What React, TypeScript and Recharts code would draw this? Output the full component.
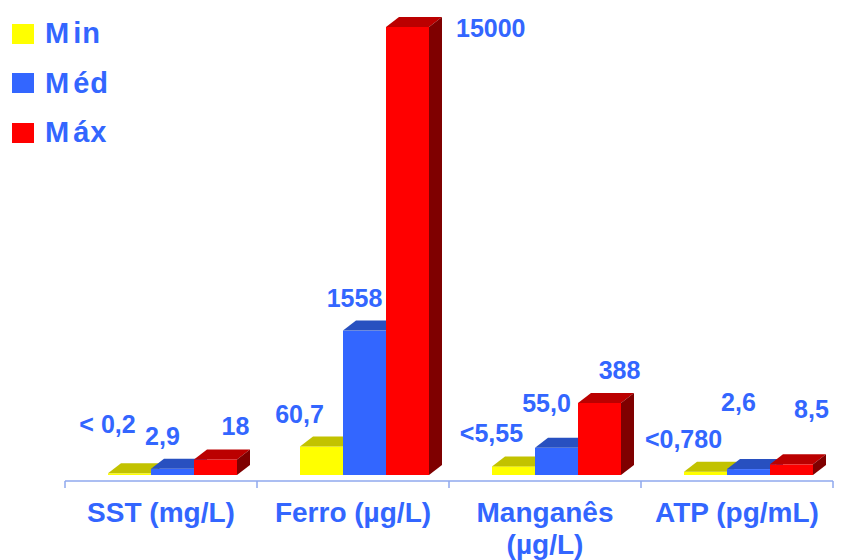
import { BarChart, Bar, XAxis, YAxis, LabelList, Legend } from "recharts";

// Parâmetros por categoria: mínimo, médio e máximo
const categories = ["SST (mg/L)", "Ferro (µg/L)", "Manganês (µg/L)", "ATP (pg/mL)"];
const minValues = [0.2, 60.7, 5.55, 0.78];
const medValues = [2.9, 1558, 55.0, 2.6];
const maxValues = [18, 15000, 388, 8.5];
const minLabels = ["< 0,2", "60,7", "<5,55", "<0,780"];
const medLabels = ["2,9", "1558", "55,0", "2,6"];
const maxLabels = ["18", "15000", "388", "8,5"];

const data = categories.map((name, i) => ({
  name,
  min: minValues[i],
  med: medValues[i],
  max: maxValues[i],
}));

const FONT = "'Liberation Sans', Arial, sans-serif";
const TEXT = "#3366FF";
const AXIS = "#8FA8EE";

// profundidade do efeito 3D e deslocamento das barras
const DX = 13;
const DY = 10;
const SHIFT = 11;
const LIFT = 6;

type Series = {
  key: "min" | "med" | "max";
  name: string;
  labels: string[];
  front: string;
  top: string;
  side: string;
  labelDx: number;
  raise: number[]; // afastamento extra dos rótulos, por categoria
};

const series: Series[] = [
  { key: "min", name: "Min", labels: minLabels, front: "#FFFF00", top: "#C2C200", side: "#808000", labelDx: -22, raise: [16, 0, 0, 0] },
  { key: "med", name: "Méd", labels: medLabels, front: "#3366FF", top: "#2850C0", side: "#1A3A99", labelDx: -10, raise: [0, 0, 12, 34] },
  { key: "max", name: "Máx", labels: maxLabels, front: "#FF0000", top: "#BB0000", side: "#7F0000", labelDx: 20, raise: [0, 0, 0, 22] },
];

function Box3D(props: any) {
  const { x, y, width, height, s } = props;
  const X = x + SHIFT;
  const Y = y - LIFT;
  const h = Math.max(height, 0);
  const w = width;
  return (
    <g>
      <rect x={X} y={Y} width={w} height={h} fill={s.front} />
      <polygon points={`${X},${Y} ${X + DX},${Y - DY} ${X + w + DX},${Y - DY} ${X + w},${Y}`} fill={s.top} />
      <polygon
        points={`${X + w},${Y} ${X + w + DX},${Y - DY} ${X + w + DX},${Y + h - DY} ${X + w},${Y + h}`}
        fill={s.side}
      />
    </g>
  );
}

function ValueLabel(props: any) {
  const { index, s } = props;
  const vb = props.viewBox || props;
  const x = vb.x as number;
  const y = vb.y as number;
  const w = vb.width as number;
  const cx = x + w / 2 + SHIFT;
  const top = y - LIFT;
  const text = s.labels[index];
  let tx = cx + s.labelDx;
  let ty = top - 33 + 9 - s.raise[index];
  let anchor: "middle" | "start" = "middle";
  if (top - 33 < 16) {
    // sem espaço acima: rótulo ao lado da barra
    tx = x + SHIFT + w + DX + 14;
    ty = top + 10;
    anchor = "start";
  }
  return (
    <text x={tx} y={ty} textAnchor={anchor} fill={TEXT} fontSize={25} fontWeight="bold" fontFamily={FONT}>
      {text}
    </text>
  );
}

function CategoryTick(props: any) {
  const { x, y, payload, index, visibleTicksCount, width } = props;
  const half = width / visibleTicksCount / 2;
  const label: string = payload.value;
  const cut = label.indexOf(" (");
  const lines = label.length > 13 ? [label.slice(0, cut), label.slice(cut + 1)] : [label];
  return (
    <g>
      <line x1={x - half} y1={y} x2={x - half} y2={y + 7} stroke={AXIS} strokeWidth={1.5} />
      {index === visibleTicksCount - 1 && (
        <line x1={x + half} y1={y} x2={x + half} y2={y + 7} stroke={AXIS} strokeWidth={1.5} />
      )}
      <text x={x} y={y + 41} textAnchor="middle" fill={TEXT} fontSize={28} fontWeight="bold" fontFamily={FONT}>
        {lines.map((l, i) => (
          <tspan key={i} x={x} dy={i === 0 ? 0 : 32}>
            {l}
          </tspan>
        ))}
      </text>
    </g>
  );
}

function LegendBox() {
  return (
    <div style={{ fontFamily: FONT }}>
      {series.map((s) => (
        <div key={s.key} style={{ display: "flex", alignItems: "center", height: 49.5 }}>
          <span style={{ width: 22, height: 20, background: s.front, display: "inline-block", marginRight: 11 }} />
          <span style={{ color: TEXT, fontSize: 29, fontWeight: "bold", lineHeight: "29px", letterSpacing: 1 }}>
            <span style={{ letterSpacing: 4 }}>{s.name.charAt(0)}</span>
            {s.name.slice(1)}
          </span>
        </div>
      ))}
    </div>
  );
}

export default function App() {
  return (
    <div style={{ position: "absolute", left: 0, top: 0, width: 856, height: 560, background: "#fff" }}>
      <BarChart
        width={856}
        height={560}
        data={data}
        margin={{ top: 33, right: 23, left: 65, bottom: 19 }}
        barGap={0}
        barSize={43}
      >
        <XAxis
          dataKey="name"
          height={60}
          interval={0}
          tickLine={false}
          tickSize={0}
          tickMargin={0}
          axisLine={{ stroke: AXIS, strokeWidth: 1.5 }}
          tick={<CategoryTick />}
        />
        <YAxis hide width={0} scale="sqrt" domain={[0, 15000]} />
        <Legend
          layout="vertical"
          align="center"
          verticalAlign="middle"
          wrapperStyle={{ left: 12, top: 9, width: 160 }}
          content={<LegendBox />}
        />
        {series.map((s) => (
          <Bar
            key={s.key}
            dataKey={s.key}
            name={s.name}
            fill={s.front}
            isAnimationActive={false}
            shape={(p: any) => <Box3D {...p} s={s} />}
          >
            <LabelList dataKey={s.key} content={(p: any) => <ValueLabel {...p} s={s} />} />
          </Bar>
        ))}
      </BarChart>
    </div>
  );
}
